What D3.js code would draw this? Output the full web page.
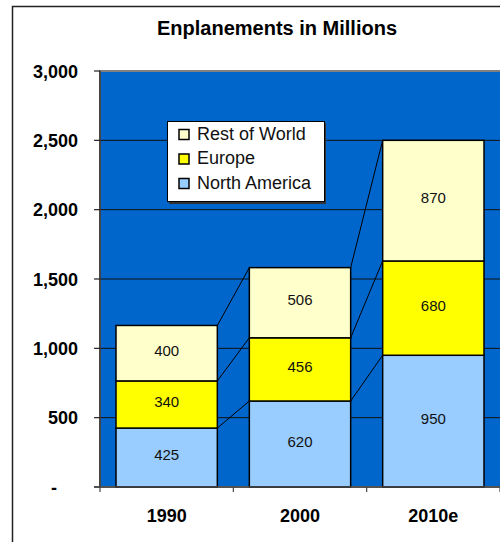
<!DOCTYPE html>
<html><head><meta charset="utf-8">
<script src="https://cdn.jsdelivr.net/npm/d3@7"></script>
<style>html,body{margin:0;padding:0;background:#fff;overflow:hidden}svg{display:block;overflow:hidden;font-family:Arial,"Liberation Sans",sans-serif}</style>
</head><body>
<svg id="c" width="540" height="560"></svg>
<script>
const categories = ["1990", "2000", "2010e"];
const seriesNames = ["North America", "Europe", "Rest of World"];
const northAmerica = [425, 620, 950];
const europe = [340, 456, 680];
const restOfWorld = [400, 506, 870];
const yTicks = [0, 500, 1000, 1500, 2000, 2500, 3000];
const yTickLabels = ["-", "500", "1,000", "1,500", "2,000", "2,500", "3,000"];
const colors = {"North America": "#99CCFF", "Europe": "#FFFF00", "Rest of World": "#FFFFCC"};

const svg = d3.select("#c");
const L = 100, R = 500, T = 71, B = 487;

// outer chart border
svg.append("rect").attr("x", 12.5).attr("y", 6.5).attr("width", 600).attr("height", 600)
  .attr("fill", "#fff").attr("stroke", "#222").attr("stroke-width", 1.5);

svg.append("text").attr("x", 277).attr("y", 34.5).attr("text-anchor", "middle")
  .attr("font-weight", "bold").attr("font-size", 20).text("Enplanements in Millions");

const x = d3.scaleBand().domain(categories).range([L, R]).paddingInner(0.24).paddingOuter(0.12);
const y = d3.scaleLinear().domain([0, 3000]).range([B, T]);

// plot area
svg.append("rect").attr("x", L).attr("y", T).attr("width", 440).attr("height", B - T)
  .attr("fill", "#0066CC").attr("stroke", "#808080").attr("stroke-width", 2);

// gridlines
svg.append("g").selectAll("line").data(yTicks.slice(1, -1)).join("line")
  .attr("x1", L).attr("x2", 540).attr("y1", d => y(d)).attr("y2", d => y(d))
  .attr("stroke", "#111").attr("stroke-width", 1);

const data = categories.map((c, i) => ({cat: c, "North America": northAmerica[i], "Europe": europe[i], "Rest of World": restOfWorld[i]}));
const stack = d3.stack().keys(seriesNames)(data);

// series lines
const sl = svg.append("g");
stack.forEach(s => {
  for (let i = 0; i < categories.length - 1; i++) {
    sl.append("line")
      .attr("x1", x(categories[i]) + x.bandwidth()).attr("y1", y(s[i][1]))
      .attr("x2", x(categories[i + 1])).attr("y2", y(s[i + 1][1]))
      .attr("stroke", "#000").attr("stroke-width", 1);
  }
});

// bars
const g = svg.append("g");
stack.forEach(s => {
  g.selectAll(null).data(s).join("rect")
    .attr("x", d => x(d.data.cat)).attr("width", x.bandwidth())
    .attr("y", d => y(d[1])).attr("height", d => y(d[0]) - y(d[1]))
    .attr("fill", colors[s.key]).attr("stroke", "#000").attr("stroke-width", 1.5);
  g.selectAll(null).data(s).join("text")
    .attr("x", d => x(d.data.cat) + x.bandwidth() / 2)
    .attr("y", d => (y(d[0]) + y(d[1])) / 2 + 2.5)
    .attr("text-anchor", "middle").attr("font-size", 15).attr("fill", "#111")
    .text(d => d[1] - d[0]);
});

// y axis
const ya = svg.append("g");
ya.append("line").attr("x1", L).attr("x2", L).attr("y1", T).attr("y2", B).attr("stroke", "#333").attr("stroke-width", 1.5);
ya.selectAll("line.t").data(yTicks).join("line").attr("class", "t")
  .attr("x1", L - 6).attr("x2", L).attr("y1", d => y(d)).attr("y2", d => y(d)).attr("stroke", "#222").attr("stroke-width", 1.2);
ya.selectAll("text").data(yTicks).join("text")
  .attr("x", (d, i) => yTickLabels[i] === "-" ? 57 : 78)
  .attr("y", d => y(d) + 6.5).attr("text-anchor", "end")
  .attr("font-weight", "bold").attr("font-size", 18).text((d, i) => yTickLabels[i]);

// x axis
const xa = svg.append("g");
xa.append("line").attr("x1", L - 6).attr("x2", 540).attr("y1", B).attr("y2", B).attr("stroke", "#444").attr("stroke-width", 1.5);
const step = x.step();
xa.selectAll("line.t").data(d3.range(categories.length + 1)).join("line").attr("class", "t")
  .attr("x1", i => L + i * step).attr("x2", i => L + i * step).attr("y1", B).attr("y2", B + 5)
  .attr("stroke", "#444").attr("stroke-width", 1.2);
xa.selectAll("text").data(categories).join("text")
  .attr("x", d => x(d) + x.bandwidth() / 2).attr("y", 522).attr("text-anchor", "middle")
  .attr("font-weight", "bold").attr("font-size", 18).text(d => d);

// legend
const lg = svg.append("g");
lg.append("rect").attr("x", 169).attr("y", 123).attr("width", 157).attr("height", 81).attr("fill", "#333");
lg.append("rect").attr("x", 167.5).attr("y", 121.5).attr("width", 157).attr("height", 80)
  .attr("fill", "#fff").attr("stroke", "#000").attr("stroke-width", 1);
const legendItems = ["Rest of World", "Europe", "North America"];
lg.selectAll("rect.s").data(legendItems).join("rect").attr("class", "s")
  .attr("x", 179).attr("y", (d, i) => 129.5 + i * 24.5).attr("width", 10).attr("height", 10)
  .attr("fill", d => colors[d]).attr("stroke", "#000").attr("stroke-width", 1.5);
lg.selectAll("text").data(legendItems).join("text")
  .attr("x", 197).attr("y", (d, i) => 139.5 + i * 24.8)
  .attr("font-size", 18).attr("fill", "#111").text(d => d);
</script>
</body></html>
